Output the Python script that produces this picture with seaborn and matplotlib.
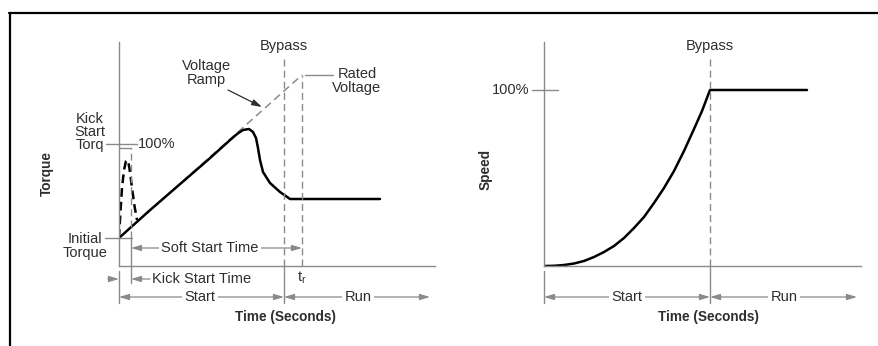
import matplotlib
matplotlib.use("Agg")
import matplotlib.pyplot as plt
import seaborn as sns
from matplotlib.lines import Line2D

# Schematic units: time / torque / speed in arbitrary units
TORQUE_T = [0, 30, 60, 90, 110, 118, 124, 130, 134, 137, 139, 141, 144, 151, 161, 171, 261]
TORQUE_Y = [28, 55, 81, 107, 125, 132, 136, 137, 134, 128, 118, 106, 94, 83, 74, 67, 67]

KICK_T = [0, 1.5, 3, 5, 7, 8, 9.5, 11, 13, 15.5, 18]
KICK_Y = [28, 55, 78, 96, 105, 106, 103, 94, 78, 60, 46]

RAMP_T = [0, 183]
RAMP_Y = [28, 191]

SPEED_T = [0, 10, 20, 30, 40, 50, 60, 70, 80, 90, 100, 110, 120, 130, 140, 150, 158, 166, 263]
SPEED_Y = [0, 0.2, 1, 2.5, 5, 9, 14, 20, 28, 38, 49, 63, 78, 95, 115, 137, 155, 176, 176]

KICK_END = 12
BYPASS = 165
T_RATED = 183
BYPASS_R = 166

TEXT = "#2e2e2e"
AXC = "#8a8a8a"
DASH = "#8a8a8a"

sns.set_style("white")
plt.rcParams["font.family"] = ["Liberation Sans", "DejaVu Sans"]

fig = plt.figure(figsize=(8.79, 3.46), dpi=100)
W, H = 879.0, 346.0

# frame lines of the original figure
fig.add_artist(Line2D([9 / W, 1], [1 - 13 / H, 1 - 13 / H], color="black", lw=1.6))
fig.add_artist(Line2D([10 / W, 10 / W], [0, 1 - 13 / H], color="black", lw=1.6))

ax1 = fig.add_axes([119 / W, 80 / H, 316 / W, 224 / H])
ax2 = fig.add_axes([544 / W, 80 / H, 317 / W, 224 / H])


def setup(ax, xmax):
    ax.set_xlim(0, xmax)
    ax.set_ylim(0, 224)
    ax.set_xticks([])
    ax.set_yticks([])
    ax.set_xlabel("")
    ax.set_ylabel("")
    for s in ["top", "right"]:
        ax.spines[s].set_visible(False)
    for s in ["left", "bottom"]:
        ax.spines[s].set_color(AXC)
        ax.spines[s].set_linewidth(1.0)
    ax.patch.set_alpha(0)


def span_arrow(ax, x0, x1, y, label, xt):
    ax.annotate("", xy=(x0, y), xytext=(x1, y), annotation_clip=False,
                arrowprops=dict(arrowstyle="<|-|>,head_length=0.6,head_width=0.18",
                                color=AXC, lw=0.9, shrinkA=0, shrinkB=0))
    ax.text(xt, y, label, ha="center", va="center", fontsize=10.5, color=TEXT,
            bbox=dict(fc="white", ec="none", pad=1.5), clip_on=False)


def vline(ax, x, y0, y1, ls="-"):
    if ls == "-":
        ax.plot([x, x], [y0, y1], color=AXC, lw=1.0, clip_on=False)
    else:
        ax.plot([x, x], [y0, y1], color=DASH, lw=1.0, linestyle=(0, (5, 3)),
                clip_on=False)


# ---------------- left panel: torque ----------------
ax = ax1
sns.lineplot(x=RAMP_T, y=RAMP_Y, ax=ax, color=DASH, lw=1.1,
             linestyle=(0, (5, 3)), sort=False, estimator=None)
sns.lineplot(x=KICK_T, y=KICK_Y, ax=ax, color="black", lw=1.8,
             linestyle=(0, (3.5, 2)), sort=False, estimator=None)
sns.lineplot(x=TORQUE_T, y=TORQUE_Y, ax=ax, color="black", lw=1.8,
             sort=False, estimator=None)
setup(ax, 316)

vline(ax, BYPASS, 0, 209, ls="--")
vline(ax, BYPASS, 0, -37)
vline(ax, T_RATED, 0, 191, ls="--")
vline(ax, KICK_END, 28, 118, ls="--")
vline(ax, KICK_END, 28, -17)
vline(ax, 0, -5, -37)
ax.plot([0, KICK_END], [118, 118], color=DASH, lw=1.0, clip_on=False)

# kick start torque leader + initial torque leader + rated voltage leader
ax.plot([-13, 18], [122, 122], color=AXC, lw=1.0, clip_on=False)
ax.plot([-14, 13], [28, 28], color=AXC, lw=1.0, clip_on=False)
ax.plot([186, 214], [191, 191], color=AXC, lw=1.0, clip_on=False)

ax.text(-29, 134, "Kick\nStart\nTorq", ha="center", va="center", fontsize=10.5,
        color=TEXT, linespacing=0.92)
ax.text(19, 122, "100%", ha="left", va="center", fontsize=10.5, color=TEXT)
ax.text(-34, 20, "Initial\nTorque", ha="center", va="center", fontsize=10.5,
        color=TEXT, linespacing=0.95, clip_on=False)
ax.text(87, 193, "Voltage\nRamp", ha="center", va="center", fontsize=10.5,
        color=TEXT, linespacing=0.95)
ax.annotate("", xy=(143, 159), xytext=(109, 176),
            arrowprops=dict(arrowstyle="-|>,head_length=0.6,head_width=0.18",
                            color=TEXT, lw=0.9, shrinkA=0, shrinkB=0))
ax.text(BYPASS, 220, "Bypass", ha="center", va="center", fontsize=10.5, color=TEXT,
        clip_on=False)
ax.text(238, 185, "Rated\nVoltage", ha="center", va="center", fontsize=10.5,
        color=TEXT, linespacing=0.95)

span_arrow(ax, KICK_END, T_RATED, 18, "Soft Start Time", 91)
ax.annotate("", xy=(0, -13), xytext=(-11, -13), annotation_clip=False,
            arrowprops=dict(arrowstyle="-|>,head_length=0.6,head_width=0.18",
                            color=AXC, lw=0.9, shrinkA=0, shrinkB=0))
ax.annotate("", xy=(KICK_END, -13), xytext=(31, -13), annotation_clip=False,
            arrowprops=dict(arrowstyle="-|>,head_length=0.6,head_width=0.18",
                            color=AXC, lw=0.9, shrinkA=0, shrinkB=0))
ax.text(33, -13, "Kick Start Time", ha="left", va="center", fontsize=10.5,
        color=TEXT, clip_on=False)
ax.text(T_RATED, -12, r"$\mathregular{t_r}$", ha="center", va="center",
        fontsize=10.5, color=TEXT, clip_on=False)

span_arrow(ax, 0, BYPASS, -31, "Start", 81)
span_arrow(ax, BYPASS, 311, -31, "Run", 239)
ax.text(166, -51, "Time (Seconds)", ha="center", va="center", fontsize=9.8,
        fontweight="bold", color=TEXT, clip_on=False)
ax.text(-72, 92, "Torque", ha="center", va="center", rotation=90, fontsize=9.8,
        fontweight="bold", color=TEXT, clip_on=False)

# ---------------- right panel: speed ----------------
ax = ax2
sns.lineplot(x=SPEED_T, y=SPEED_Y, ax=ax, color="black", lw=1.8,
             sort=False, estimator=None)
setup(ax, 317)

vline(ax, BYPASS_R, 0, 209, ls="--")
vline(ax, BYPASS_R, 0, -37)
vline(ax, 0, -5, -37)
ax.plot([-12, 14], [176, 176], color=AXC, lw=1.0, clip_on=False)
ax.text(-15, 176, "100%", ha="right", va="center", fontsize=10.5, color=TEXT,
        clip_on=False)
ax.text(BYPASS_R, 220, "Bypass", ha="center", va="center", fontsize=10.5,
        color=TEXT, clip_on=False)

span_arrow(ax, 0, BYPASS_R, -31, "Start", 83)
span_arrow(ax, BYPASS_R, 313, -31, "Run", 240)
ax.text(164, -51, "Time (Seconds)", ha="center", va="center", fontsize=9.8,
        fontweight="bold", color=TEXT, clip_on=False)
ax.text(-58, 97, "Speed", ha="center", va="center", rotation=90, fontsize=9.8,
        fontweight="bold", color=TEXT, clip_on=False)

fig.savefig("out.png", dpi=100)
